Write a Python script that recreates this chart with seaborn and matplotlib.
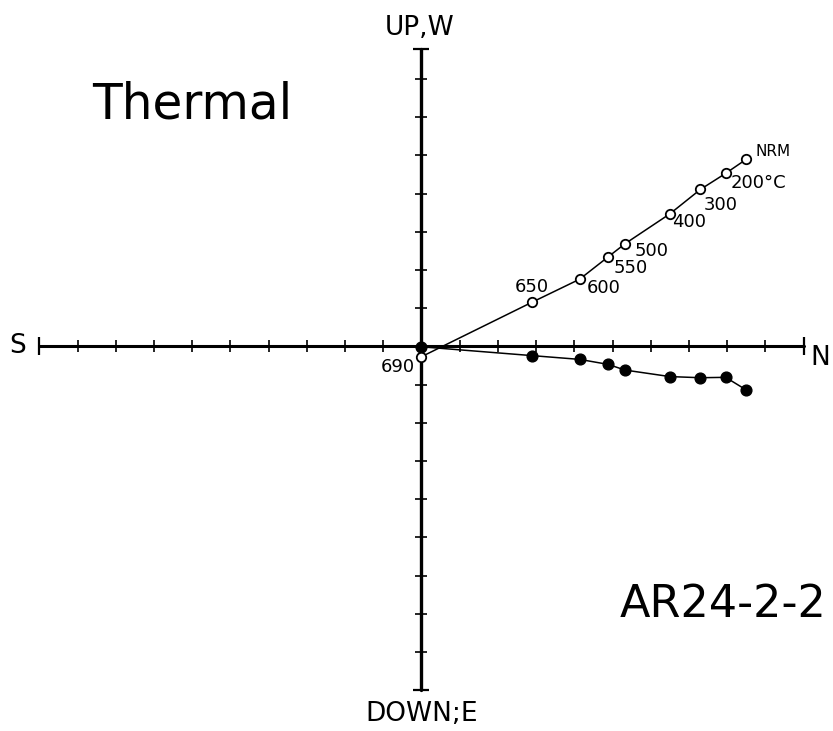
import numpy as np
import pandas as pd
import seaborn as sns
import matplotlib.pyplot as plt

# demagnetization steps (thermal) in axis-tick units
steps = ["NRM", "200°C", "300", "400", "500", "550", "600", "650", "690"]
north = [8.50, 7.96, 7.30, 6.50, 5.33, 4.88, 4.14, 2.88, 0.00]
up_w = [4.90, 4.53, 4.11, 3.47, 2.69, 2.34, 1.76, 1.15, -0.27]     # vertical projection (open)
west = [-1.14, -0.81, -0.82, -0.79, -0.62, -0.47, -0.34, -0.24, -0.01]  # horizontal projection (filled)

# label offsets in pixels from the open circles
label_off = {"NRM": (9, 8, "left"), "200°C": (5, -10, "left"), "300": (3, -16, "left"),
             "400": (2, -8, "left"), "500": (9, -7, "left"), "550": (6, -11, "left"),
             "600": (7, -9, "left"), "650": (0, 15, "center"), "690": (-7, -10, "right")}

df = pd.DataFrame({"step": steps, "north": north, "up": up_w, "west": west})

sns.set_style("white")
plt.rcParams["font.family"] = ["DejaVu Sans"]
plt.rcParams["text.color"] = "black"

fig = plt.figure(figsize=(8.33, 7.31), dpi=100)
ax = fig.add_axes([0, 0, 1, 1])
ax.set_xlim(-11.03, 10.77)
ax.set_ylim(-10.07, 9.07)
ax.axis("off")

# axes of the diagram
h_end, v_top, v_bot = 10, 7.8, -9.0
ax.plot([-h_end, h_end], [0, 0], color="black", lw=2.2, zorder=1)
ax.plot([0, 0], [v_bot, v_top], color="black", lw=2.4, zorder=1)
hx = np.arange(-h_end + 1, h_end)
ax.plot(hx, np.zeros_like(hx), ls="", marker="|", ms=9, mew=1.2, color="black")
ax.plot([-h_end, h_end], [0, 0], ls="", marker="|", ms=13, mew=1.6, color="black")
vy = np.arange(-8, 8)
ax.plot(np.zeros_like(vy), vy, ls="", marker="_", ms=9, mew=1.2, color="black")
ax.plot([0, 0], [v_bot, v_top], ls="", marker="_", ms=12, mew=1.6, color="black")

# horizontal projection: filled circles
sns.lineplot(data=df, x="north", y="west", sort=False, estimator=None,
             color="black", lw=1.1, ax=ax, zorder=2)
sns.scatterplot(data=df, x="north", y="west", s=60, color="black",
                edgecolor="black", linewidth=1, ax=ax, zorder=3)

# vertical projection: open circles
sns.lineplot(data=df, x="north", y="up", sort=False, estimator=None,
             color="black", lw=1.1, ax=ax, zorder=2)
sns.scatterplot(data=df, x="north", y="up", s=46, color="white",
                edgecolor="black", linewidth=1.3, ax=ax, zorder=4)

for _, r in df.iterrows():
    dx, dy, ha = label_off[r["step"]]
    ax.annotate(r["step"], (r["north"], r["up"]), xytext=(dx, dy),
                textcoords="offset pixels", ha=ha, va="center",
                fontsize=11 if r["step"] == "NRM" else 13)

ax.text(-10.56, 0.0, "S", fontsize=19, ha="center", va="center")
ax.text(10.44, -0.3, "N", fontsize=19, ha="center", va="center")
ax.text(-0.04, 8.15, "UP,W", fontsize=19, ha="center", va="baseline")
ax.text(0.0, -9.82, "DOWN;E", fontsize=19, ha="center", va="baseline")
ax.text(-8.63, 5.98, "Thermal", fontsize=35, ha="left", va="baseline")
ax.text(10.6, -7.08, "AR24-2-2", fontsize=32, ha="right", va="baseline")

ax.set_xlabel("")
ax.set_ylabel("")
fig.savefig("out.png", dpi=100)
plt.close(fig)
